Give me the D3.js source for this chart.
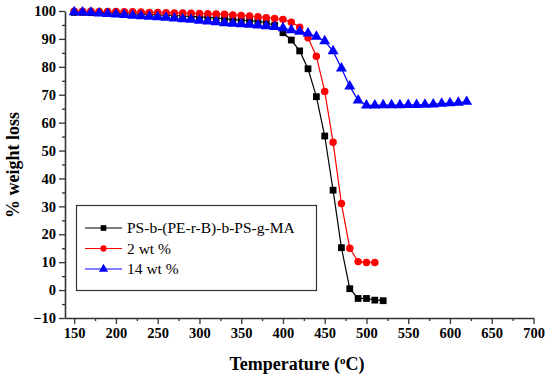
<!DOCTYPE html>
<html>
<head>
<meta charset="utf-8">
<script src="https://cdn.jsdelivr.net/npm/d3@7"></script>
<style>
  body { margin: 0; background: #fff; }
  svg { display: block; }
</style>
</head>
<body>
<script>
// temperatures (°C), 10 degree steps
const tempBase = [150, 160, 170, 180, 190, 200, 210, 220, 230, 240, 250, 260, 270, 280, 290,
  300, 310, 320, 330, 340, 350, 360, 370, 380, 390, 400, 410, 420, 430, 440, 450, 460, 470, 480,
  490, 500, 510, 520];
const tempBlue = tempBase.concat([530, 540, 550, 560, 570, 580, 590, 600, 610, 620]);

const neatValues = [99.5, 99.5, 99.4, 99.4, 99.3, 99.2, 99.1, 99.0, 98.9, 98.8, 98.6, 98.5,
  98.4, 98.2, 98.1, 97.9, 97.7, 97.5, 97.2, 96.9, 96.7, 96.5, 96.3, 95.8, 94.8, 92.2, 89.6,
  85.7, 79.3, 69.3, 55.2, 35.8, 15.2, 0.5, -3.0, -3.0, -3.6, -3.8];
const wt2Values = [99.9, 99.9, 99.9, 99.8, 99.8, 99.8, 99.7, 99.7, 99.6, 99.5, 99.5, 99.4,
  99.3, 99.3, 99.2, 99.1, 99.0, 98.9, 98.8, 98.6, 98.4, 98.2, 97.9, 97.6, 97.3, 97.0, 96.0,
  94.2, 90.4, 83.8, 71.2, 53.0, 31.0, 15.0, 10.2, 9.9, 9.9];
const wt14Values = [99.6, 99.5, 99.4, 99.2, 99.0, 98.8, 98.6, 98.4, 98.2, 98.0, 97.8, 97.6,
  97.4, 97.1, 96.9, 96.6, 96.3, 96.0, 95.7, 95.5, 95.3, 95.1, 94.9, 94.6, 94.3, 93.9, 93.2,
  92.6, 92.0, 90.8, 89.2, 85.6, 79.5, 73.0, 68.0, 66.2, 66.2, 66.3, 66.3, 66.3, 66.4, 66.4,
  66.5, 66.6, 66.8, 67.0, 67.2, 67.5];

const seriesNames = ["PS-b-(PE-r-B)-b-PS-g-MA", "2 wt %", "14 wt %"];
const xTicks = [150, 200, 250, 300, 350, 400, 450, 500, 550, 600, 650, 700];
const yTicks = [-10, 0, 10, 20, 30, 40, 50, 60, 70, 80, 90, 100];

const series = [
  { name: seriesNames[0], temps: tempBase, values: neatValues, color: "#000000", marker: d3.symbolSquare, size: 46 },
  { name: seriesNames[1], temps: tempBase.slice(0, wt2Values.length), values: wt2Values, color: "#ff0000", marker: d3.symbolCircle, size: 44 },
  { name: seriesNames[2], temps: tempBlue, values: wt14Values, color: "#0000ff", marker: d3.symbolTriangle, size: 52 }
];

const w = 550, h = 381;
const plotLeft = 65, plotRight = 533.5, plotTop = 11, plotBottom = 318;
const serif = "'Liberation Serif', 'Times New Roman', serif";

const svg = d3.select("body").append("svg").attr("width", w).attr("height", h);

const x = d3.scaleLinear().domain([139, 700]).range([plotLeft, plotRight]);
const y = d3.scaleLinear().domain([-10, 100]).range([plotBottom, plotTop]);

// axes
const axisColor = "#333";
svg.append("g").attr("transform", `translate(0,${plotBottom})`)
  .call(d3.axisBottom(x).tickValues(xTicks).tickSize(6).tickSizeOuter(0).tickPadding(4));
svg.append("g").attr("transform", `translate(0,${plotBottom})`)
  .call(d3.axisBottom(x).tickValues(d3.range(175, 700, 50)).tickSize(3).tickSizeOuter(0).tickFormat(""))
  .select(".domain").remove();

svg.append("g").attr("transform", `translate(${plotLeft},0)`)
  .call(d3.axisLeft(y).tickValues(yTicks).tickSize(6).tickSizeOuter(0).tickPadding(3));
svg.append("g").attr("transform", `translate(${plotLeft},0)`)
  .call(d3.axisLeft(y).tickValues(d3.range(-5, 100, 10)).tickSize(3).tickSizeOuter(0).tickFormat(""))
  .select(".domain").remove();

svg.selectAll(".domain").attr("stroke", axisColor).attr("stroke-width", 1.6);
svg.selectAll(".tick line").attr("stroke", axisColor).attr("stroke-width", 1.3);
svg.selectAll(".tick text")
  .style("font-family", serif).style("font-weight", "bold").style("font-size", "14.5px")
  .attr("fill", "#000");

// axis titles
svg.append("text")
  .attr("x", 297).attr("y", 370)
  .attr("text-anchor", "middle")
  .style("font-family", serif).style("font-weight", "bold").style("font-size", "18px")
  .html("Temperature (<tspan font-size='11px' dy='-6'>o</tspan><tspan dy='6'>C)</tspan>");

svg.append("text")
  .attr("transform", "translate(19,165) rotate(-90)")
  .attr("text-anchor", "middle")
  .style("font-family", serif).style("font-weight", "bold").style("font-size", "18px")
  .text("% weight loss");

// lines and markers
const line = d3.line().x((d) => x(d[0])).y((d) => y(d[1]));

series.forEach((s) => {
  const pts = s.values.map((v, i) => [s.temps[i], v]);
  svg.append("path").datum(pts)
    .attr("fill", "none").attr("stroke", s.color).attr("stroke-width", 1.2)
    .attr("d", line);
  svg.append("g").selectAll("path").data(pts).enter().append("path")
    .attr("transform", (d) => `translate(${x(d[0])},${y(d[1])})`)
    .attr("d", d3.symbol().type(s.marker).size(s.size))
    .attr("fill", s.color);
});

// legend
const legend = svg.append("g");
legend.append("rect")
  .attr("x", 76.5).attr("y", 205.5).attr("width", 240).attr("height", 85)
  .attr("fill", "#fff").attr("stroke", "#333").attr("stroke-width", 1.2);

series.forEach((s, i) => {
  const ly = 228 + i * 20.5;
  legend.append("line").attr("x1", 85).attr("x2", 122).attr("y1", ly).attr("y2", ly)
    .attr("stroke", s.color).attr("stroke-width", 1.2);
  legend.append("path").attr("transform", `translate(103.5,${ly})`)
    .attr("d", d3.symbol().type(s.marker).size(s.size * 0.7)).attr("fill", s.color);
  legend.append("text").attr("x", 127).attr("y", ly + 5)
    .style("font-family", serif).style("font-size", "15.5px")
    .text(s.name);
});
</script>
</body>
</html>
